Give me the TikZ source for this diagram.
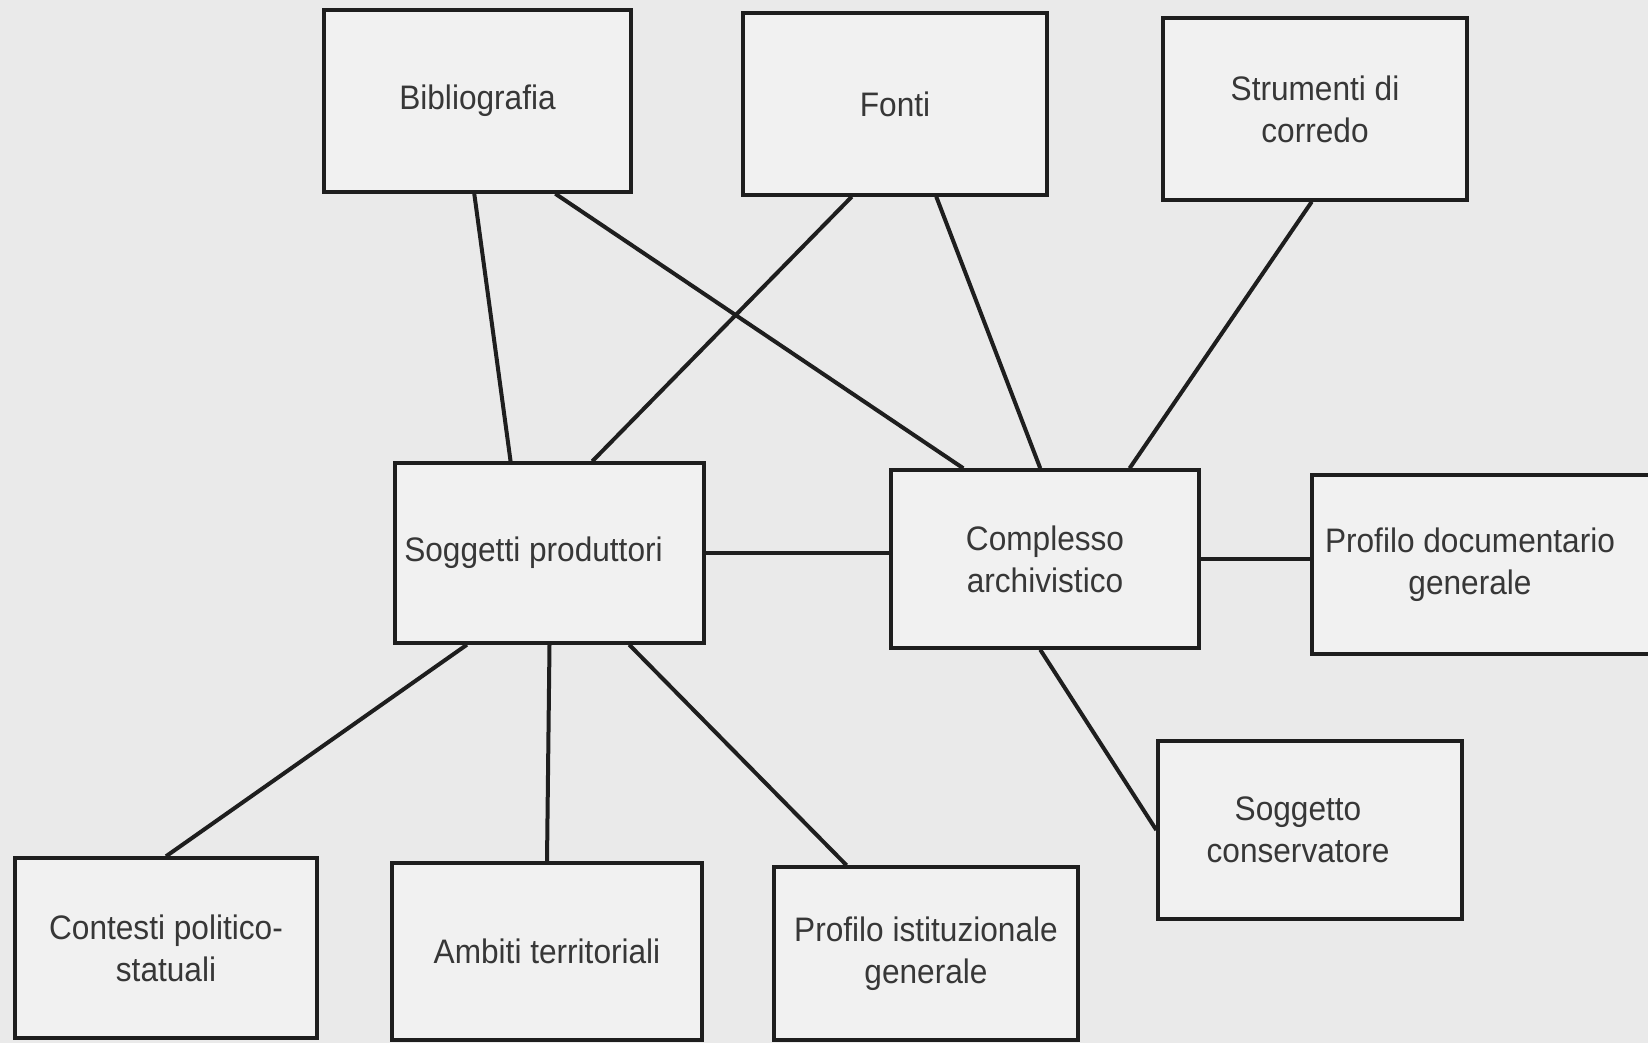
\documentclass[tikz,border=0pt]{standalone}
\usepackage{fontspec}
\setmainfont{Liberation Sans}[FakeStretch=0.93]
\usetikzlibrary{calc}
\definecolor{scan}{RGB}{234,234,234}
\definecolor{paper}{RGB}{241,241,241}
\definecolor{ink}{RGB}{30,30,30}
\definecolor{print}{RGB}{55,55,55}

\begin{document}
\begin{tikzpicture}[x=0.5pt,y=0.5pt,yscale=-1,xscale=1,
		entity/.style={draw=ink, line width=1.7pt, fill=paper, text=print, align=center, inner sep=2pt, font=\fontsize{17}{21}\selectfont},
		caption/.style={text=print, align=center, inner sep=2pt, font=\fontsize{17}{21}\selectfont},
		link/.style={draw=ink, line width=2pt}]
		\fill[scan] (0,0) rectangle (1648,1043);
		\useasboundingbox (0,0) rectangle (1648,1043);

		% top row
		\node[entity, minimum width=153.5pt, minimum height=91pt] (bib) at (477.5,101) {Bibliografia};
		\node[entity, minimum width=152pt, minimum height=91pt] (fonti) at (895,104) {Fonti};
		\node[entity, minimum width=152pt, minimum height=91pt] (strum) at (1315,109) {Strumenti di\\corredo};

		% middle row
		\node[entity, minimum width=154.5pt, minimum height=90pt] (sogg) at (549.5,553) {Soggetti produttori\hspace*{16pt}};
		\node[entity, minimum width=154pt, minimum height=89pt] (compl) at (1045,559) {Complesso\\archivistico};
		\node[entity, minimum width=194pt, minimum height=89.5pt] (profdoc) at (1506,564.5) {};
		\node[caption] (profdoclabel) at (1470,564.5) {Profilo documentario\\generale};
		\node[entity, minimum width=152pt, minimum height=89pt] (cons) at (1310,830) {Soggetto\hspace*{12pt}\\conservatore\hspace*{12pt}};

		% bottom row
		\node[entity, minimum width=151pt, minimum height=90pt] (contesti) at (166,948) {Contesti politico-\\statuali};
		\node[entity, minimum width=155pt, minimum height=88.5pt] (ambiti) at (547,951.5) {Ambiti territoriali};
		\node[entity, minimum width=152pt, minimum height=86.5pt] (profist) at (926,953.5) {Profilo istituzionale\\generale};

		\draw[link] (bib.268) -- (sogg.113);
		\draw[link] (bib.310) -- (compl.132);
		\draw[link] (fonti.245) -- (sogg.65);
		\draw[link] (fonti.294) -- (compl.93);
		\draw[link] (strum.268) -- (compl.47);
		\draw[link] (sogg.east) -- (sogg.east -| compl.west);
		\draw[link] (compl.east) -- (compl.east -| profdoc.west);
		\draw[link] (sogg.228) -- (contesti.north);
		\draw[link] (sogg.south) -- (ambiti.north);
		\draw[link] (sogg.311) -- (profist.132);
		\draw[link] (compl.267) -- (cons.west);
\end{tikzpicture}
\end{document}
